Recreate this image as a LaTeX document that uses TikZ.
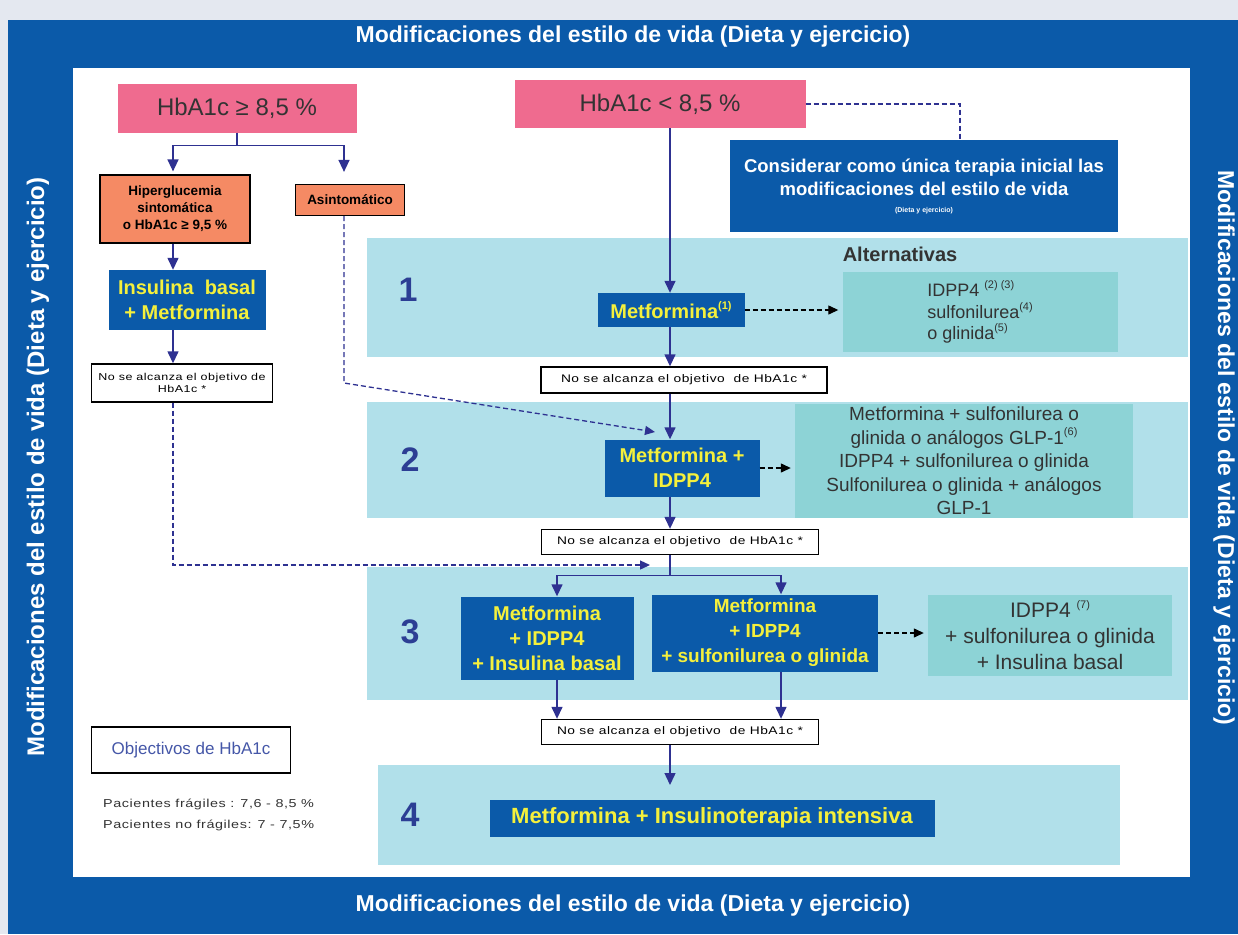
\documentclass[tikz,border=0pt]{standalone}
\usepackage{fontspec}
\setmainfont{Liberation Sans}
\newfontfamily\widesmall{Liberation Sans}[FakeStretch=1.25,LetterSpace=5]
\usetikzlibrary{arrows.meta,positioning}

\definecolor{frameblue}{HTML}{0B5AA9}
\definecolor{pagegray}{HTML}{E4E8F0}
\definecolor{hbpink}{HTML}{EF6B8F}
\definecolor{hyporange}{HTML}{F58A64}
\definecolor{bandcyan}{HTML}{B1E0EA}
\definecolor{altteal}{HTML}{8DD3D6}
\definecolor{arrowblue}{HTML}{2E3191}
\definecolor{drugyellow}{HTML}{F5F03C}
\definecolor{numblue}{HTML}{2C3E94}
\definecolor{goaltext}{HTML}{4557A8}
\definecolor{darktext}{HTML}{333333}

\newcommand{\upnote}[1]{\raisebox{0.45em}{\fontsize{11}{11}\selectfont #1}}

\tikzset{
  flow/.style={draw=arrowblue,line width=1.4pt,-{Triangle[width=11pt,length=12pt]}},
  flowline/.style={draw=arrowblue,line width=1.4pt},
  dashflow/.style={draw=arrowblue,line width=1.3pt,dash pattern=on 5pt off 3pt,-{Triangle[width=9pt,length=10pt]}},
  dashline/.style={draw=arrowblue,line width=1.3pt,dash pattern=on 5pt off 3pt},
  altflow/.style={draw=black,line width=1.3pt,dash pattern=on 5pt off 3pt,-{Triangle[width=9pt,length=10pt]},shorten >=4pt},
  pinkbox/.style={fill=hbpink,text=darktext,inner sep=0pt,font=\fontsize{24}{26}\selectfont},
  orangebox/.style={fill=hyporange,draw=black,line width=1.2pt,align=center,inner sep=0pt,font=\bfseries\fontsize{13.5}{17}\selectfont},
  drugbox/.style={fill=frameblue,text=drugyellow,align=center,inner sep=0pt,font=\bfseries\fontsize{20}{25}\selectfont},
  goalbox/.style={fill=white,draw=black,line width=1.4pt,align=center,inner sep=0pt,font=\widesmall\fontsize{11}{13}\selectfont},
  altbox/.style={fill=altteal,align=center,inner sep=0pt,text=darktext,font=\fontsize{19}{23.5}\selectfont},
  band/.style={fill=bandcyan},
  stepnum/.style={text=numblue,font=\bfseries\fontsize{34}{36}\selectfont},
  sidetext/.style={text=white,font=\bfseries\fontsize{23}{26}\selectfont},
}

\begin{document}
\begin{tikzpicture}[x=1pt,y=-1pt]
  \useasboundingbox (0,0) rectangle (1238,934);
  % frame
  \fill[pagegray] (0,0) rectangle (1238,934);
  \fill[frameblue] (8,20) rectangle (1238,934);
  \fill[white] (73,68) rectangle (1190,877);
  \node[sidetext] (titleT) at (633,37) {Modificaciones del estilo de vida (Dieta y ejercicio)};
  \node[sidetext] (titleB) at (633,906) {Modificaciones del estilo de vida (Dieta y ejercicio)};
  \node[sidetext,font=\bfseries\fontsize{24}{26}\selectfont,rotate=90] (sideL) at (38,467) {Modificaciones del estilo de vida (Dieta y ejercicio)};
  \node[sidetext,rotate=-90] (sideR) at (1224,448) {Modificaciones del estilo de vida (Dieta y ejercicio)};

  % steps
  \fill[band] (367,238) rectangle (1188,357);
  \fill[band] (367,402) rectangle (1188,518);
  \fill[band] (367,567) rectangle (1188,700);
  \fill[band] (378,765) rectangle (1120,865);
  \node[stepnum] (n1) at (408,290) {1};
  \node[stepnum] (n2) at (410,460) {2};
  \node[stepnum] (n3) at (410,632) {3};
  \node[stepnum] (n4) at (410,815) {4};
  \node[font=\bfseries\fontsize{20}{22}\selectfont,text=darktext] (alttitle) at (900,254) {Alternativas};

  % boxes
  \node[pinkbox,minimum width=239,minimum height=49] (hi) at (237,108) {HbA1c ≥ 8,5 \%};
  \node[pinkbox,minimum width=291,minimum height=48] (lo) at (660,104) {HbA1c < 8,5 \%};
  \node[drugbox,text=white,font=\bfseries\fontsize{18.5}{23}\selectfont,minimum width=388,minimum height=92] (consider) at (924,186)
    {Considerar como única terapia inicial las\\modificaciones del estilo de vida\\[-6pt]{\fontsize{7}{8}\selectfont (Dieta y ejercicio)}};
  \node[orangebox,minimum width=150,minimum height=68] (hyper) at (175,209) {Hiperglucemia\\sintomática\\o HbA1c ≥ 9,5 \%};
  \node[orangebox,minimum width=109,minimum height=31] (asin) at (350,200) {Asintomático};
  \node[drugbox,minimum width=157,minimum height=60] (ins) at (187,300) {Insulina\ \ basal\\+ Metformina};
  \node[goalbox,font=\widesmall\fontsize{10}{12}\selectfont,minimum width=181,minimum height=38] (nse0) at (182,383) {No se alcanza el objetivo de\\HbA1c *};

  \node[drugbox,minimum width=147,minimum height=34] (metf1) at (671,310) {Metformina\upnote{(1)}};
  \node[altbox,align=left,font=\fontsize{18}{21.5}\selectfont,minimum width=275,minimum height=80] (alt1) at (980,312)
    {IDPP4 \upnote{(2) (3)}\\sulfonilurea\upnote{(4)}\\o glinida\upnote{(5)}};
  \node[goalbox,minimum width=286,minimum height=26] (nse1) at (684,380) {No se alcanza el objetivo \ de HbA1c *};

  \node[drugbox,minimum width=155,minimum height=57] (m2) at (682,468) {Metformina +\\IDPP4};
  \node[altbox,minimum width=338,minimum height=114] (alt2) at (964,461)
    {Metformina + sulfonilurea o\\glinida o análogos GLP-1\upnote{(6)}\\IDPP4 + sulfonilurea o glinida\\Sulfonilurea o glinida + análogos\\GLP-1};
  \node[goalbox,minimum width=277,minimum height=25] (nse2) at (680,542) {No se alcanza el objetivo \ de HbA1c *};

  \node[drugbox,minimum width=173,minimum height=83] (m3a) at (547,638) {Metformina\\+ IDPP4\\+ Insulina basal};
  \node[drugbox,font=\bfseries\fontsize{19}{25}\selectfont,minimum width=226,minimum height=77] (m3b) at (765,633) {Metformina\\+ IDPP4\\+ sulfonilurea o glinida};
  \node[altbox,font=\fontsize{21}{26}\selectfont,minimum width=244,minimum height=81] (alt3) at (1050,635)
    {IDPP4 \upnote{(7)}\\+ sulfonilurea o glinida\\+ Insulina basal};
  \node[goalbox,minimum width=277,minimum height=25] (nse3) at (680,732) {No se alcanza el objetivo \ de HbA1c *};

  \node[drugbox,font=\bfseries\fontsize{22}{24}\selectfont,minimum width=445,minimum height=37] (m4) at (712,818) {Metformina + Insulinoterapia intensiva};

  \node[goalbox,text=goaltext,font=\fontsize{17}{20}\selectfont,minimum width=199,minimum height=46] (obj) at (191,750) {Objectivos de HbA1c};
  \node[anchor=west,align=left,inner sep=0pt,text=darktext,font=\widesmall\fontsize{11.5}{21}\selectfont] (pac) at (103,815)
    {Pacientes frágiles : 7,6 - 8,5 \%\\Pacientes no frágiles: 7 - 7,5\%};

  % connectors
  \coordinate (axis) at (670,0);
  \coordinate (asbend) at (344,383);
  \coordinate (in2) at (655,432);
  \coordinate (in3) at (650,565);
  \coordinate (in4) at (670,785);

  \draw[flowline] (hi.south) -- ++(0,13) coordinate (split0);
  \draw[flow] (split0) -| ([xshift=-2pt,yshift=3pt]hyper.north);
  \draw[flow] (split0) -| ([xshift=-6pt,yshift=12pt]asin.north);
  \draw[flow] ([xshift=-2pt]hyper.south) -- ([xshift=-2pt]hyper.south |- ins.north);
  \draw[flow] ([xshift=-2pt]hyper.south |- ins.south) -- ([xshift=-2pt]hyper.south |- nse0.north);
  \draw[dashflow] ([xshift=-6pt]asin.south) -- (asbend) -- (in2);
  \draw[dashflow] ([xshift=-9pt]nse0.south) |- (in3);
  \draw[dashline] (lo.east) -| ([xshift=36pt]consider.north);

  \draw[flow] (lo.south -| axis) -- (metf1.north -| axis);
  \draw[flow] (metf1.south -| axis) -- (nse1.north -| axis);
  \draw[flow] (nse1.south -| axis) -- (m2.north -| axis);
  \draw[flow] (m2.south -| axis) -- (nse2.north -| axis);
  \draw[flowline] (nse2.south -| axis) -- ++(0,20) coordinate (split3);
  \draw[flow] (split3) -| ([xshift=10pt]m3a.north);
  \draw[flow] (split3) -| ([xshift=16pt]m3b.north);
  \draw[flow] ([xshift=10pt]m3a.south) -- ([xshift=10pt]m3a.south |- nse3.north);
  \draw[flow] ([xshift=16pt]m3b.south) -- ([xshift=16pt]m3b.south |- nse3.north);
  \draw[flow] (nse3.south -| axis) -- (in4);

  \draw[altflow] (metf1.east) -- (metf1.east -| alt1.west);
  \draw[altflow] (m2.east) -- (m2.east -| alt2.west);
  \draw[altflow] (m3b.east) -- (m3b.east -| alt3.west);
\end{tikzpicture}
\end{document}
